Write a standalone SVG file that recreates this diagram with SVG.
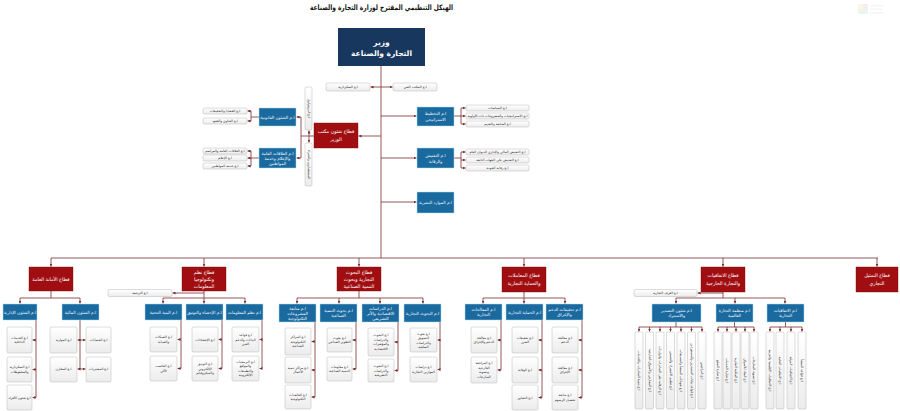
<svg xmlns="http://www.w3.org/2000/svg" width="900" height="411" viewBox="0 0 900 411">
<style>
.ln{stroke:#7b2d2d;stroke-width:0.8;fill:none}
.ar{marker-end:url(#a)}
.nv{fill:#17375e}
.sec{fill:#a10e12;stroke:#7a0a0a;stroke-width:0.4}
.blu{fill:#1a6aa0;stroke:#a9dcf2;stroke-width:0.5}
.wb{fill:url(#g);stroke:#a6a6a6;stroke-width:0.4}
text{font-family:"DejaVu Sans","Noto Sans",sans-serif;text-anchor:middle;dominant-baseline:central;direction:rtl}
.tw{fill:#fff}
.tb{font-size:4.2px}
.tsec{font-size:4.8px}
.ts{font-size:3.3px;fill:#222}
.tv{font-size:3.3px;fill:#222}
</style>
<defs>
<marker id="a" viewBox="0 0 10 10" refX="10" refY="5" markerWidth="3" markerHeight="3" markerUnits="userSpaceOnUse" orient="auto"><path d="M0,0L10,5L0,10z" fill="#7b2d2d"/></marker>
<linearGradient id="g" x1="0" y1="0" x2="0" y2="1"><stop offset="0" stop-color="#ffffff"/><stop offset="1" stop-color="#ececec"/></linearGradient>
</defs>
<rect width="900" height="411" fill="#fff"/>
<g id="logo" opacity="0.18"><rect x="858" y="4" width="5" height="5" fill="#f6d26b"/><rect x="863" y="4" width="5" height="5" fill="#e58fb0"/><rect x="858" y="9" width="5" height="5" fill="#9fd38a"/><rect x="863" y="9" width="5" height="5" fill="#8ec9e8"/><rect x="870" y="5" width="14" height="1.5" fill="#ccc"/><rect x="870" y="8.5" width="12" height="1.5" fill="#ccc"/><rect x="870" y="12" width="14" height="1.5" fill="#ccc"/></g>
<text x="381.5" y="7" font-size="7.5" font-weight="bold" fill="#111" textLength="143" lengthAdjust="spacingAndGlyphs">الهيكل التنظيمي المقترح لوزارة التجارة والصناعة</text>

<g id="connectors">
<path class="ln" d="M381,66V258"/>
<path class="ln ar" d="M381,87H370.5"/><path class="ln ar" d="M381,87H392.5"/>
<path class="ln ar" d="M381,136H358.5"/>
<path class="ln ar" d="M381,116H416.5"/><path class="ln ar" d="M381,158H416.5"/><path class="ln ar" d="M381,202H416.5"/>
<path class="ln" d="M454,116H461M461,108V124M454,158H461M461,152V168"/>
<path class="ln ar" d="M461,108H465.5"/><path class="ln ar" d="M461,116H465.5"/><path class="ln ar" d="M461,124H465.5"/>
<path class="ln ar" d="M461,152H465.5"/><path class="ln ar" d="M461,160H465.5"/><path class="ln ar" d="M461,168H465.5"/>
<path class="ln" d="M314,136H301M301,117V158"/>
<path class="ln ar" d="M301,117H296.5"/><path class="ln ar" d="M301,158H296.5"/>
<path class="ln ar" d="M309,136V130.5"/><path class="ln ar" d="M309,136V142.5"/>
<path class="ln" d="M259,117H251M251,111V121M259,158H251M251,151V166"/>
<path class="ln ar" d="M251,111H247.5"/><path class="ln ar" d="M251,121H247.5"/>
<path class="ln ar" d="M251,151H247.5"/><path class="ln ar" d="M251,158H247.5"/><path class="ln ar" d="M251,166H247.5"/>
<path class="ln" d="M51,258H878"/>
<path class="ln ar" d="M51,258V266.5"/><path class="ln ar" d="M204,258V266.5"/><path class="ln ar" d="M359,258V266.5"/><path class="ln ar" d="M524,258V266.5"/><path class="ln ar" d="M723,258V266.5"/><path class="ln ar" d="M877,258V266.5"/>
<path class="ln" d="M51,291V298M20,298H80M204,291V298M163,298H245M359,291V298M297,298H423M524,292V298M483,298H565M723,292V298M676,298H785"/>
<path class="ln ar" d="M204,293H172.5"/><path class="ln ar" d="M723,293H697.5"/>
<path class="ln ar" d="M20,298V303.5"/><path class="ln ar" d="M80,298V303.5"/>
<path class="ln ar" d="M163,298V303.5"/><path class="ln ar" d="M204,298V303.5"/><path class="ln ar" d="M245,298V303.5"/>
<path class="ln ar" d="M297,298V303.5"/><path class="ln ar" d="M339,298V303.5"/><path class="ln ar" d="M380,298V303.5"/><path class="ln ar" d="M423,298V303.5"/>
<path class="ln ar" d="M483,298V303.5"/><path class="ln ar" d="M524,298V303.5"/><path class="ln ar" d="M565,298V303.5"/>
<path class="ln ar" d="M676,298V303.5"/><path class="ln ar" d="M735,298V303.5"/><path class="ln ar" d="M785,298V303.5"/>
<path class="ln" d="M36,320V397.5M80,320V369"/>
<path class="ln ar" d="M36,340H32.5"/><path class="ln ar" d="M36,369.5H32.5"/><path class="ln ar" d="M36,397.5H32.5"/>
<path class="ln ar" d="M80,340H77.5"/><path class="ln ar" d="M80,369H77.5"/><path class="ln ar" d="M80,340H85.5"/><path class="ln ar" d="M80,369H85.5"/>
<path class="ln" d="M181,320V368.5M222,320V368.5M262,320V368.5"/>
<path class="ln ar" d="M181,339.5H177.5"/><path class="ln ar" d="M181,368.5H177.5"/>
<path class="ln ar" d="M222,339.5H218.5"/><path class="ln ar" d="M222,368.5H218.5"/>
<path class="ln ar" d="M262,339.5H259.5"/><path class="ln ar" d="M262,368.5H259.5"/>
<path class="ln" d="M315,322V397M356,322V369M398,322V370.5M440,322V369.5"/>
<path class="ln ar" d="M315,341.5H311.5"/><path class="ln ar" d="M315,370H311.5"/><path class="ln ar" d="M315,397H311.5"/>
<path class="ln ar" d="M356,340H352.5"/><path class="ln ar" d="M356,369H352.5"/>
<path class="ln ar" d="M398,342H394.5"/><path class="ln ar" d="M398,370.5H394.5"/>
<path class="ln ar" d="M440,340H437.5"/><path class="ln ar" d="M440,369.5H437.5"/>
<path class="ln" d="M501,320V370M542,320V397.5M582,320V397.5"/>
<path class="ln ar" d="M501,340H497.5"/><path class="ln ar" d="M501,370H497.5"/>
<path class="ln ar" d="M542,340H538.5"/><path class="ln ar" d="M542,370H538.5"/><path class="ln ar" d="M542,397.5H538.5"/>
<path class="ln ar" d="M582,340H578.5"/><path class="ln ar" d="M582,370H578.5"/><path class="ln ar" d="M582,397.5H578.5"/>
<path class="ln" d="M676,322V327M639,327H702M734.5,322V327M718,327H754M785.5,322V327M770,327H802"/>
<path class="ln ar" d="M639,327V331.5"/><path class="ln ar" d="M649.5,327V331.5"/><path class="ln ar" d="M660,327V331.5"/><path class="ln ar" d="M670.5,327V331.5"/><path class="ln ar" d="M681,327V331.5"/><path class="ln ar" d="M691.5,327V331.5"/><path class="ln ar" d="M702,327V331.5"/>
<path class="ln ar" d="M718,327V331.5"/><path class="ln ar" d="M727,327V331.5"/><path class="ln ar" d="M736,327V331.5"/><path class="ln ar" d="M745,327V331.5"/><path class="ln ar" d="M754,327V331.5"/>
<path class="ln ar" d="M770,327V331.5"/><path class="ln ar" d="M780,327V331.5"/><path class="ln ar" d="M791,327V331.5"/><path class="ln ar" d="M802,327V331.5"/>
</g>

<g id="minister"><rect class="nv" x="338" y="28" width="87" height="38"/><text class="tw" x="381.5" y="42" font-size="7.5" font-weight="bold">وزير</text><text class="tw" x="381.5" y="53" font-size="7.5" font-weight="bold">التجارة والصناعة</text></g>
<g id="secretary"><rect class="wb" x="326" y="83" width="44" height="8" rx="1.5"/><text class="ts" x="348" y="87">ا.ع السكرتارية</text></g>
<g id="techoffice"><rect class="wb" x="393" y="83" width="44" height="8" rx="1.5"/><text class="ts" x="415" y="87">ا.ع المكتب الفني</text></g>

<g id="sector-office"><rect class="sec" x="314" y="123" width="44" height="25"/><text class="tw tsec" x="336" y="131">قطاع شئون مكتب</text><text class="tw tsec" x="336" y="139">الوزير</text></g>
<g id="protocol"><rect class="wb" x="305" y="87" width="7" height="43" rx="1.5"/><text class="tv" transform="rotate(90 308.5 108.5)" x="308.5" y="108.5">ا.ع البروتوكول</text></g>
<g id="advisors"><rect class="wb" x="305" y="143" width="7" height="43" rx="1.5"/><text class="tv" transform="rotate(90 308.5 164.5)" x="308.5" y="164.5">المستشارون والخبراء</text></g>
<g id="legal"><rect class="blu" x="259" y="108" width="37" height="18"/><text class="tw tb" x="277.5" y="117">ا.م الشئون القانونية</text></g>
<g id="legal-1"><rect class="wb" x="203" y="108" width="44" height="6" rx="1.5"/><text class="ts" x="225" y="111">ا.ع القضايا والتحقيقات</text></g>
<g id="legal-2"><rect class="wb" x="203" y="118" width="44" height="6" rx="1.5"/><text class="ts" x="225" y="121">ا.ع الفتاوى والعقود</text></g>
<g id="pr"><rect class="blu" x="259" y="148" width="37" height="20"/><text class="tw tb" x="277.5" y="153">ا.م العلاقات العامة</text><text class="tw tb" x="277.5" y="158">والإعلام وخدمة</text><text class="tw tb" x="277.5" y="163">المواطنين</text></g>
<g id="pr-1"><rect class="wb" x="203" y="148" width="44" height="6" rx="1.5"/><text class="ts" x="225" y="151">ا.ع العلاقات العامة والمراسم</text></g>
<g id="pr-2"><rect class="wb" x="203" y="155" width="44" height="6" rx="1.5"/><text class="ts" x="225" y="158">ا.ع الإعلام</text></g>
<g id="pr-3"><rect class="wb" x="203" y="163" width="44" height="6" rx="1.5"/><text class="ts" x="225" y="166">ا.ع خدمة المواطنين</text></g>

<g id="planning"><rect class="blu" x="417" y="107" width="37" height="19"/><text class="tw tb" x="435.5" y="113.5">ا.م التخطيط</text><text class="tw tb" x="435.5" y="119.5">الاستراتيجي</text></g>
<g id="planning-1"><rect class="wb" x="466" y="105" width="63" height="6" rx="1.5"/><text class="ts" x="497.5" y="108">ا.ع السياسات</text></g>
<g id="planning-2"><rect class="wb" x="466" y="113" width="63" height="6" rx="1.5"/><text class="ts" x="497.5" y="116">ا.ع الاستراتيجيات والمشروعات ذات الأولوية</text></g>
<g id="planning-3"><rect class="wb" x="466" y="121" width="63" height="6" rx="1.5"/><text class="ts" x="497.5" y="124">ا.ع المتابعة والتقييم</text></g>
<g id="inspection"><rect class="blu" x="417" y="148" width="37" height="20"/><text class="tw tb" x="435.5" y="155">ا.م التفتيش</text><text class="tw tb" x="435.5" y="161">والرقابة</text></g>
<g id="inspection-1"><rect class="wb" x="466" y="149" width="63" height="6" rx="1.5"/><text class="ts" x="497.5" y="152">ا.ع التفتيش المالي والإداري للديوان العام</text></g>
<g id="inspection-2"><rect class="wb" x="466" y="157" width="63" height="6" rx="1.5"/><text class="ts" x="497.5" y="160">ا.ع التفتيش على الجهات التابعة</text></g>
<g id="inspection-3"><rect class="wb" x="466" y="165" width="63" height="6" rx="1.5"/><text class="ts" x="497.5" y="168">ا.ع رقابة الجودة</text></g>
<g id="hr"><rect class="blu" x="417" y="192" width="37" height="21"/><text class="tw tb" x="435.5" y="202.5">ا.م الموارد البشرية</text></g>

<g id="sector-general"><rect class="sec" x="29" y="267" width="44" height="24"/><text class="tw tsec" x="51" y="279">قطاع الأمانة العامة</text></g>
<g id="sector-it"><rect class="sec" x="182" y="267" width="44" height="24"/><text class="tw tsec" x="204" y="272">قطاع نظم</text><text class="tw tsec" x="204" y="279">وتكنولوجيا</text><text class="tw tsec" x="204" y="286">المعلومات</text></g>
<g id="sector-research"><rect class="sec" x="337" y="267" width="44" height="24"/><text class="tw tsec" x="359" y="272">قطاع البحوث</text><text class="tw tsec" x="359" y="279">التجارية وبحوث</text><text class="tw tsec" x="359" y="286">التنمية الصناعية</text></g>
<g id="sector-trade"><rect class="sec" x="502" y="267" width="44" height="25"/><text class="tw tsec" x="524" y="275.5">قطاع المعاملات</text><text class="tw tsec" x="524" y="283">والحماية التجارية</text></g>
<g id="sector-agreements"><rect class="sec" x="701" y="267" width="44" height="25"/><text class="tw tsec" x="723" y="275.5">قطاع الاتفاقيات</text><text class="tw tsec" x="723" y="283">والتجارة الخارجية</text></g>
<g id="sector-representation"><rect class="sec" x="856" y="267" width="42" height="25"/><text class="tw tsec" x="877" y="275.5">قطاع التمثيل</text><text class="tw tsec" x="877" y="283">التجاري</text></g>
<g id="translation"><rect class="wb" x="108" y="289.5" width="64" height="7" rx="1.5"/><text class="ts" x="140" y="293">ا.ع الترجمة</text></g>
<g id="chambers"><rect class="wb" x="634" y="289.5" width="63" height="7" rx="1.5"/><text class="ts" x="665.5" y="293">ا.ع الغرف التجارية</text></g>

<g id="admin"><rect class="blu" x="3" y="304" width="34" height="16"/><text class="tw tb" x="20" y="312">ا.م الشئون الإدارية</text></g>
<g id="admin-1"><rect class="wb" x="7" y="327" width="25" height="26" rx="1.5"/><text class="ts" x="19.5" y="337.5">ا.ع الخدمات</text><text class="ts" x="19.5" y="342">الداخلية</text></g>
<g id="admin-2"><rect class="wb" x="7" y="357" width="25" height="25" rx="1.5"/><text class="ts" x="19.5" y="367">ا.ع السكرتارية</text><text class="ts" x="19.5" y="371.5">والمحفوظات</text></g>
<g id="admin-3"><rect class="wb" x="7" y="385" width="25" height="25" rx="1.5"/><text class="ts" x="19.5" y="397.5">ا.ع شئون الأفراد</text></g>
<g id="finance"><rect class="blu" x="62" y="304" width="37" height="16"/><text class="tw tb" x="80.5" y="312">ا.م الشئون المالية</text></g>
<g id="finance-1"><rect class="wb" x="86" y="327" width="25" height="26" rx="1.5"/><text class="ts" x="98.5" y="340">ا.ع الحسابات</text></g>
<g id="finance-2"><rect class="wb" x="86" y="357" width="25" height="25" rx="1.5"/><text class="ts" x="98.5" y="369">ا.ع المشتريات</text></g>
<g id="finance-3"><rect class="wb" x="50" y="327" width="27" height="26" rx="1.5"/><text class="ts" x="63.5" y="340">ا.ع الموازنة</text></g>
<g id="finance-4"><rect class="wb" x="50" y="357" width="27" height="25" rx="1.5"/><text class="ts" x="63.5" y="369">ا.ع المخازن</text></g>

<g id="infra"><rect class="blu" x="145" y="304" width="37" height="16"/><text class="tw tb" x="163.5" y="312">ا.م البنية التحتية</text></g>
<g id="infra-1"><rect class="wb" x="150" y="327" width="27" height="25" rx="1.5"/><text class="ts" x="163.5" y="337">ا.ع الشبكات</text><text class="ts" x="163.5" y="341.5">والصيانة</text></g>
<g id="infra-2"><rect class="wb" x="150" y="356" width="27" height="25" rx="1.5"/><text class="ts" x="163.5" y="366">ا.ع الحاسب</text><text class="ts" x="163.5" y="370.5">الآلي</text></g>
<g id="stats"><rect class="blu" x="186" y="304" width="37" height="16"/><text class="tw tb" x="204.5" y="312">ا.م الإحصاء والتوثيق</text></g>
<g id="stats-1"><rect class="wb" x="192" y="327" width="26" height="25" rx="1.5"/><text class="ts" x="205" y="339.5">ا.ع الإحصاءات</text></g>
<g id="stats-2"><rect class="wb" x="192" y="356" width="26" height="25" rx="1.5"/><text class="ts" x="205" y="364">ا.ع التوثيق</text><text class="ts" x="205" y="368.5">الإلكتروني</text><text class="ts" x="205" y="373">والميكروفيلم</text></g>
<g id="infosys"><rect class="blu" x="226" y="304" width="37" height="16"/><text class="tw tb" x="244.5" y="312">ا.م نظم المعلومات</text></g>
<g id="infosys-1"><rect class="wb" x="232" y="327" width="27" height="25" rx="1.5"/><text class="ts" x="245.5" y="335">ا.ع قواعد</text><text class="ts" x="245.5" y="339.5">البيانات والدعم</text><text class="ts" x="245.5" y="344">الفني</text></g>
<g id="infosys-2"><rect class="wb" x="232" y="356" width="27" height="25" rx="1.5"/><text class="ts" x="245.5" y="361.5">ا.ع البرمجيات</text><text class="ts" x="245.5" y="366">والمواقع</text><text class="ts" x="245.5" y="370.5">والتطبيقات</text><text class="ts" x="245.5" y="375">الإلكترونية</text></g>

<g id="projects"><rect class="blu" x="279" y="304" width="37" height="18"/><text class="tw tb" x="297.5" y="308">ا.م متابعة</text><text class="tw tb" x="297.5" y="313">المشروعات</text><text class="tw tb" x="297.5" y="318">التكنولوجية</text></g>
<g id="projects-1"><rect class="wb" x="285" y="328" width="26" height="27" rx="1.5"/><text class="ts" x="298" y="337">ا.ع المراكز</text><text class="ts" x="298" y="341.5">التكنولوجية</text><text class="ts" x="298" y="346">الصناعية</text></g>
<g id="projects-2"><rect class="wb" x="285" y="357" width="26" height="26" rx="1.5"/><text class="ts" x="298" y="367.5">ا.ع مراكز تنمية</text><text class="ts" x="298" y="372">الأعمال</text></g>
<g id="projects-3"><rect class="wb" x="285" y="385" width="26" height="24" rx="1.5"/><text class="ts" x="298" y="394.5">ا.ع الحاضنات</text><text class="ts" x="298" y="399">التكنولوجية</text></g>
<g id="indres"><rect class="blu" x="320" y="304" width="37" height="18"/><text class="tw tb" x="338.5" y="310.5">ا.م بحوث التنمية</text><text class="tw tb" x="338.5" y="315.5">الصناعية</text></g>
<g id="indres-1"><rect class="wb" x="327" y="328" width="25" height="24" rx="1.5"/><text class="ts" x="339.5" y="337.5">ا.ع بحوث</text><text class="ts" x="339.5" y="342">التطوير الصناعي</text></g>
<g id="indres-2"><rect class="wb" x="327" y="357" width="25" height="24" rx="1.5"/><text class="ts" x="339.5" y="366.5">ا.ع معلومات</text><text class="ts" x="339.5" y="371">التنمية الصناعية</text></g>
<g id="econ"><rect class="blu" x="362" y="304" width="37" height="18"/><text class="tw tb" x="380.5" y="308">ا.م الدراسات</text><text class="tw tb" x="380.5" y="313">الاقتصادية والأثر</text><text class="tw tb" x="380.5" y="318">التشريعي</text></g>
<g id="econ-1"><rect class="wb" x="368" y="328" width="26" height="28" rx="1.5"/><text class="ts" x="381" y="335">ا.ع البحوث</text><text class="ts" x="381" y="339.5">والدراسات</text><text class="ts" x="381" y="344">والمؤشرات</text><text class="ts" x="381" y="348.5">الاقتصادية</text></g>
<g id="econ-2"><rect class="wb" x="368" y="359" width="26" height="23" rx="1.5"/><text class="ts" x="381" y="366">ا.ع البحوث</text><text class="ts" x="381" y="370.5">والدراسات</text><text class="ts" x="381" y="375">التشريعية</text></g>
<g id="comres"><rect class="blu" x="404" y="304" width="37" height="18"/><text class="tw tb" x="422.5" y="313">ا.م البحوث التجارية</text></g>
<g id="comres-1"><rect class="wb" x="410" y="328" width="27" height="24" rx="1.5"/><text class="ts" x="423.5" y="333.5">ا.ع بحوث</text><text class="ts" x="423.5" y="338">التسويق</text><text class="ts" x="423.5" y="342.5">والدراسات</text><text class="ts" x="423.5" y="347">السلعية</text></g>
<g id="comres-2"><rect class="wb" x="410" y="357" width="27" height="25" rx="1.5"/><text class="ts" x="423.5" y="367">ا.ع دراسات</text><text class="ts" x="423.5" y="371.5">الموازين التجارية</text></g>

<g id="treat"><rect class="blu" x="465" y="304" width="37" height="16"/><text class="tw tb" x="483.5" y="309.5">ا.م المعالجات</text><text class="tw tb" x="483.5" y="314.5">التجارية</text></g>
<g id="treat-1"><rect class="wb" x="471" y="327" width="26" height="26" rx="1.5"/><text class="ts" x="484" y="337.5">ا.ع معالجة</text><text class="ts" x="484" y="342">الدعم والإغراق</text></g>
<g id="treat-2"><rect class="wb" x="471" y="357" width="26" height="26" rx="1.5"/><text class="ts" x="484" y="363">ا.ع المراجعة</text><text class="ts" x="484" y="367.5">الخارجية</text><text class="ts" x="484" y="372">وتسوية</text><text class="ts" x="484" y="376.5">المنازعات</text></g>
<g id="protect"><rect class="blu" x="506" y="304" width="37" height="16"/><text class="tw tb" x="524.5" y="312">ا.م الحماية التجارية</text></g>
<g id="protect-1"><rect class="wb" x="512" y="327" width="26" height="26" rx="1.5"/><text class="ts" x="525" y="337.5">ا.ع تحقيقات</text><text class="ts" x="525" y="342">الضرر</text></g>
<g id="protect-2"><rect class="wb" x="512" y="357" width="26" height="26" rx="1.5"/><text class="ts" x="525" y="370">ا.ع الوقاية</text></g>
<g id="protect-3"><rect class="wb" x="512" y="385" width="26" height="25" rx="1.5"/><text class="ts" x="525" y="397.5">ا.ع التشاور</text></g>
<g id="dumping"><rect class="blu" x="546" y="304" width="37" height="16"/><text class="tw tb" x="564.5" y="309.5">ا.م تحقيقات الدعم</text><text class="tw tb" x="564.5" y="314.5">والإغراق</text></g>
<g id="dumping-1"><rect class="wb" x="552" y="327" width="26" height="26" rx="1.5"/><text class="ts" x="565" y="337.5">ا.ع معالجة</text><text class="ts" x="565" y="342">الدعم</text></g>
<g id="dumping-2"><rect class="wb" x="552" y="357" width="26" height="26" rx="1.5"/><text class="ts" x="565" y="367.5">ا.ع معالجة</text><text class="ts" x="565" y="372">الإغراق</text></g>
<g id="dumping-3"><rect class="wb" x="552" y="385" width="26" height="25" rx="1.5"/><text class="ts" x="565" y="395">ا.ع متابعة</text><text class="ts" x="565" y="399.5">تحصيل الرسوم</text></g>

<g id="export"><rect class="blu" x="652" y="304" width="49" height="18"/><text class="tw tb" x="676.5" y="310.5">ا.م شئون التصدير</text><text class="tw tb" x="676.5" y="315.5">والاستيراد</text></g>
<g id="export-1"><rect class="wb" x="635" y="332" width="8" height="77" rx="1.5"/><text class="tv" transform="rotate(90 639 370.5)" x="639" y="370.5">ا.ع تنمية الصادرات والخدمات</text></g>
<g id="export-2"><rect class="wb" x="645.5" y="332" width="8" height="77" rx="1.5"/><text class="tv" transform="rotate(90 649.5 370.5)" x="649.5" y="370.5">ا.ع المعارض والأسواق الخارجية</text></g>
<g id="export-3"><rect class="wb" x="656" y="332" width="8" height="77" rx="1.5"/><text class="tv" transform="rotate(90 660 370.5)" x="660" y="370.5">ا.ع الرقابة على الصادرات والواردات</text></g>
<g id="export-4"><rect class="wb" x="666.5" y="332" width="8" height="77" rx="1.5"/><text class="tv" transform="rotate(90 670.5 370.5)" x="670.5" y="370.5">ا.ع تنظيم الاستيراد والحصص</text></g>
<g id="export-5"><rect class="wb" x="677" y="332" width="8" height="77" rx="1.5"/><text class="tv" transform="rotate(90 681 370.5)" x="681" y="370.5">ا.ع شهادات المنشأ والتصديقات</text></g>
<g id="export-6"><rect class="wb" x="687.5" y="332" width="8" height="77" rx="1.5"/><text class="tv" transform="rotate(90 691.5 370.5)" x="691.5" y="370.5">ا.ع قواعد بيانات المصدرين والمستوردين</text></g>
<g id="export-7"><rect class="wb" x="698" y="332" width="8" height="77" rx="1.5"/><text class="tv" transform="rotate(90 702 370.5)" x="702" y="370.5">ا.ع التراخيص</text></g>
<g id="wto"><rect class="blu" x="716" y="304" width="37" height="18"/><text class="tw tb" x="734.5" y="310.5">ا.م منظمة التجارة</text><text class="tw tb" x="734.5" y="315.5">العالمية</text></g>
<g id="wto-1"><rect class="wb" x="714" y="332" width="8" height="77" rx="1.5"/><text class="tv" transform="rotate(90 718 370.5)" x="718" y="370.5">ا.ع تجارة السلع</text></g>
<g id="wto-2"><rect class="wb" x="723" y="332" width="8" height="77" rx="1.5"/><text class="tv" transform="rotate(90 727 370.5)" x="727" y="370.5">ا.ع تجارة الخدمات</text></g>
<g id="wto-3"><rect class="wb" x="732" y="332" width="8" height="77" rx="1.5"/><text class="tv" transform="rotate(90 736 370.5)" x="736" y="370.5">ا.ع الملكية الفكرية</text></g>
<g id="wto-4"><rect class="wb" x="741" y="332" width="8" height="77" rx="1.5"/><text class="tv" transform="rotate(90 745 370.5)" x="745" y="370.5">ا.ع النفاذ للأسواق</text></g>
<g id="wto-5"><rect class="wb" x="750" y="332" width="8" height="77" rx="1.5"/><text class="tv" transform="rotate(90 754 370.5)" x="754" y="370.5">ا.ع تسوية المنازعات</text></g>
<g id="agree"><rect class="blu" x="767" y="304" width="37" height="18"/><text class="tw tb" x="785.5" y="310.5">ا.م الاتفاقيات</text><text class="tw tb" x="785.5" y="315.5">التجارية</text></g>
<g id="agree-1"><rect class="wb" x="766" y="332" width="8" height="77" rx="1.5"/><text class="tv" transform="rotate(90 770 370.5)" x="770" y="370.5">ا.ع الاتفاقيات الإقليمية والعربية</text></g>
<g id="agree-2"><rect class="wb" x="776" y="332" width="8" height="77" rx="1.5"/><text class="tv" transform="rotate(90 780 370.5)" x="780" y="370.5">ا.ع الاتفاقيات الثنائية</text></g>
<g id="agree-3"><rect class="wb" x="787" y="332" width="8" height="77" rx="1.5"/><text class="tv" transform="rotate(90 791 370.5)" x="791" y="370.5">ا.ع الاتفاقيات الدولية</text></g>
<g id="agree-4"><rect class="wb" x="798" y="332" width="8" height="77" rx="1.5"/><text class="tv" transform="rotate(90 802 370.5)" x="802" y="370.5">ا.ع قواعد المنشأ</text></g>
</svg>
